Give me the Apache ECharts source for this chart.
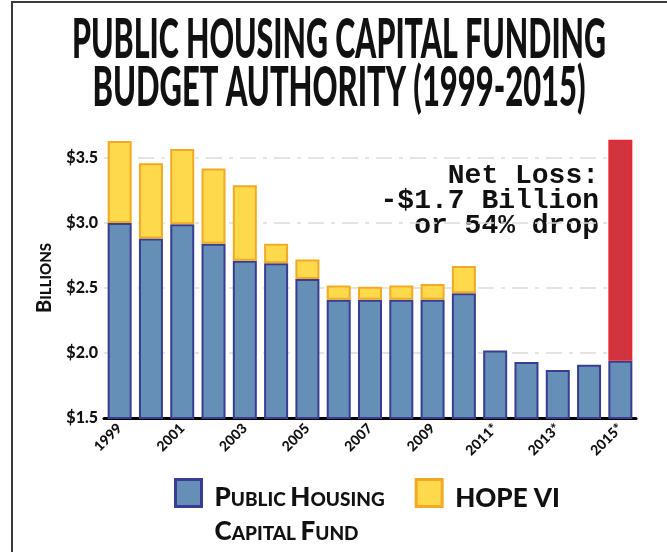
<!DOCTYPE html>
<html>
<head>
<meta charset="utf-8">
<title>Public Housing Capital Funding Budget Authority (1999-2015)</title>
<script src="https://cdn.jsdelivr.net/npm/echarts@6.0.0/dist/echarts.min.js"></script>
<style>
  html, body { margin: 0; padding: 0; background: #ffffff; }
  #chart { width: 667px; height: 552px; }
</style>
</head>
<body>
<div id="chart"></div>
<script>
// Fiscal years (asterisk = estimated / requested)
const years = ['1999', '2000', '2001', '2002', '2003', '2004', '2005', '2006', '2007',
               '2008', '2009', '2010', '2011*', '2012*', '2013*', '2014*', '2015*'];

// Budget authority, billions of dollars
const capitalFund = [3.00, 2.88, 2.99, 2.84, 2.71, 2.69, 2.57, 2.41, 2.41,
                     2.41, 2.41, 2.46, 2.02, 1.93, 1.87, 1.91, 1.94];
const hopeVI = [0.63, 0.58, 0.58, 0.58, 0.58, 0.15, 0.15, 0.11, 0.10,
                0.11, 0.12, 0.21, null, null, null, null, null];
const netLoss = [null, null, null, null, null, null, null, null, null,
                 null, null, null, null, null, null, null, 1.7];

// Value axis range and step
const yMin = 1.5;
const yMax = 3.75;
const yStep = 0.5;

const titleLines = ['PUBLIC HOUSING CAPITAL FUNDING', 'BUDGET AUTHORITY (1999-2015)'];
const lossNote = 'Net Loss:\n-$1.7 Billion\nor 54% drop';

const BLUE = '#658fb6', BLUE_EDGE = '#383d92';
const GOLD = '#fed94c', GOLD_EDGE = '#f2a923';
const RED = '#d1343f', RED_EDGE = '#e8272b';
const HEAVY = '"Lato", "Roboto", "DejaVu Sans", sans-serif';

// Squeeze the heavy title face so each line spans the requested width
function fitScale(text, font, targetWidth) {
  const ctx = document.createElement('canvas').getContext('2d');
  ctx.font = font;
  return targetWidth / ctx.measureText(text).width;
}
const titleFont = '900 55px ' + HEAVY;

// Small-caps style label: larger first letter of each word
function smallCaps(str) {
  return str.split('\n').map(line =>
    line.split(' ').map(w => '{c|' + w.charAt(0) + '}{s|' + w.slice(1) + '}').join('{s| }')
  ).join('\n');
}

const capRich = {
  c: { fontFamily: HEAVY, fontWeight: 900, fontSize: 26, color: '#111',
       verticalAlign: 'bottom', lineHeight: 34 },
  s: { fontFamily: HEAVY, fontWeight: 900, fontSize: 19, color: '#111',
       verticalAlign: 'bottom', lineHeight: 34, padding: [0, 0, 2, 0] }
};

const chart = echarts.init(document.getElementById('chart'), null, { renderer: 'canvas' });

chart.setOption({
  animation: false,
  backgroundColor: '#ffffff',
  grid: {
    left: 104, right: 31, top: 125.5, bottom: 134,
    containLabel: false, outerBoundsMode: 'none'
  },
  legend: {
    left: 174,
    top: 441,
    padding: 0,
    orient: 'horizontal',
    selectedMode: false,
    itemWidth: 26,
    itemHeight: 27,
    itemGap: 30,
    icon: 'rect',
    data: [
      { name: 'Public Housing Capital Fund',
        itemStyle: { color: BLUE, borderColor: BLUE_EDGE, borderWidth: 3 },
        textStyle: { padding: [36, 0, 0, 8], lineHeight: 34, rich: capRich } },
      { name: 'HOPE VI',
        itemStyle: { color: GOLD, borderColor: GOLD_EDGE, borderWidth: 3 },
        textStyle: { padding: [3, 0, 0, 8], lineHeight: 34, rich: capRich } }
    ],
    formatter: function (name) {
      if (name === 'HOPE VI') return '{c|HOPE}{c| }{c|VI}';
      return smallCaps('PUBLIC HOUSING\nCAPITAL FUND');
    },
    textStyle: {
      color: '#111',
      lineHeight: 34,
      rich: capRich
    }
  },
  xAxis: {
    type: 'category',
    data: years,
    axisLine: { show: true, lineStyle: { color: '#000', width: 3 } },
    axisTick: { show: false },
    axisLabel: {
      interval: 1,
      rotate: 45,
      margin: 8,
      color: '#111',
      fontFamily: HEAVY,
      fontWeight: 900,
      fontSize: 14
    },
    splitLine: { show: false }
  },
  yAxis: {
    type: 'value',
    min: yMin,
    max: yMax,
    interval: yStep,
    axisLine: { show: false },
    axisTick: { show: false },
    axisLabel: {
      showMaxLabel: false,
      margin: 6,
      color: '#111',
      fontFamily: HEAVY,
      fontWeight: 900,
      fontSize: 16,
      formatter: v => '$' + v.toFixed(1)
    },
    splitLine: {
      show: true,
      showMinLine: false,
      showMaxLine: false,
      lineStyle: { color: '#dcdcdc', width: 1.5, type: [16, 7, 4, 7] }
    }
  },
  series: [
    {
      name: 'Public Housing Capital Fund',
      type: 'bar',
      stack: 'total',
      barWidth: 24,
      data: capitalFund,
      itemStyle: { color: BLUE, borderColor: BLUE_EDGE, borderWidth: 2 }
    },
    {
      name: 'HOPE VI',
      type: 'bar',
      stack: 'total',
      barWidth: 24,
      data: hopeVI,
      itemStyle: { color: GOLD, borderColor: GOLD_EDGE, borderWidth: 2 }
    },
    {
      name: 'Net Loss',
      type: 'bar',
      stack: 'total',
      barWidth: 24,
      data: netLoss,
      itemStyle: { color: RED, borderColor: RED_EDGE, borderWidth: 1.5 }
    }
  ],
  graphic: [
    // frame
    { type: 'line', shape: { x1: 11, y1: 2, x2: 667, y2: 2 },
      style: { stroke: '#3a3a3a', lineWidth: 2 }, silent: true },
    { type: 'line', shape: { x1: 12, y1: 1, x2: 12, y2: 552 },
      style: { stroke: '#3a3a3a', lineWidth: 2 }, silent: true },
    // title
    { type: 'text', x: 339, y: 40, scaleX: fitScale(titleLines[0], titleFont, 534),
      style: { text: titleLines[0], font: titleFont, fill: '#111',
               align: 'center', verticalAlign: 'middle' } },
    { type: 'text', x: 339, y: 88, scaleX: fitScale(titleLines[1], titleFont, 493),
      style: { text: titleLines[1], font: titleFont, fill: '#111',
               align: 'center', verticalAlign: 'middle' } },
    // value axis caption
    { type: 'text', x: 44, y: 278, rotation: Math.PI / 2,
      style: {
        text: '{c|B}{s|ILLIONS}', align: 'center', verticalAlign: 'middle',
        rich: {
          c: { fontFamily: HEAVY, fontWeight: 900, fontSize: 20, fill: '#111', verticalAlign: 'bottom', lineHeight: 22 },
          s: { fontFamily: HEAVY, fontWeight: 900, fontSize: 15, fill: '#111', verticalAlign: 'bottom', lineHeight: 22, padding: [0, 0, 1, 0] }
        }
      } },
    // net loss note
    { type: 'text', x: 599, y: 201,
      style: { text: lossNote, font: 'bold 28px "Liberation Mono", "DejaVu Sans Mono", monospace',
               fill: '#111', align: 'right', verticalAlign: 'middle', lineHeight: 25 } }
  ]
});
</script>
</body>
</html>
